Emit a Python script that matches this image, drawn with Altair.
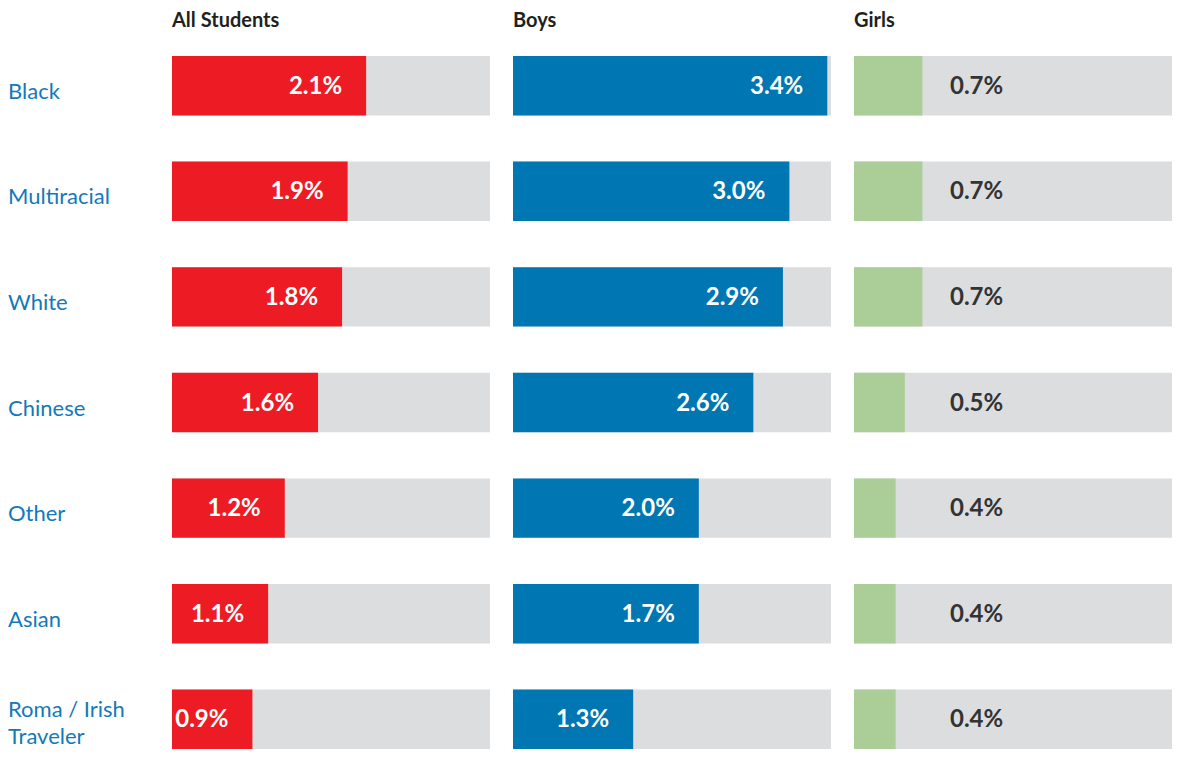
import altair as alt
import pandas as pd

categories = ["Black", "Multiracial", "White", "Chinese", "Other", "Asian", "Roma / Irish\nTraveler"]
groups = ["All Students", "Boys", "Girls"]

# bar lengths
all_vals = [2.10, 1.90, 1.84, 1.58, 1.22, 1.04, 0.87]
boys_vals = [3.40, 2.99, 2.92, 2.60, 2.01, 2.01, 1.30]
girls_vals = [0.74, 0.74, 0.74, 0.55, 0.45, 0.45, 0.45]
# printed labels
all_labels = ["2.1%", "1.9%", "1.8%", "1.6%", "1.2%", "1.1%", "0.9%"]
boys_labels = ["3.4%", "3.0%", "2.9%", "2.6%", "2.0%", "1.7%", "1.3%"]
girls_labels = ["0.7%", "0.7%", "0.7%", "0.5%", "0.4%", "0.4%", "0.4%"]
full_scale = 3.44

colors = {"All Students": "#ED1C24", "Boys": "#0076B3", "Girls": "#ABCD97"}
FONT = "Lato"

series = {
    "All Students": (all_vals, all_labels),
    "Boys": (boys_vals, boys_labels),
    "Girls": (girls_vals, girls_labels),
}

W, H = 318, 693

def panel(name, first=False):
    vals, labels = series[name]
    df = pd.DataFrame({"cat": categories, "value": vals, "label": labels,
                       "full": [full_scale] * len(categories)})
    y = alt.Y("cat:N", sort=categories, axis=None,
              scale=alt.Scale(paddingInner=0.4375, paddingOuter=0))
    xs = alt.Scale(domain=[0, full_scale], nice=False, zero=True)
    base = alt.Chart(df)
    bg = base.mark_bar(color="#DCDDDF").encode(
        x=alt.X("full:Q", scale=xs, axis=None), y=y)
    bar = base.mark_bar(color=colors[name]).encode(
        x=alt.X("value:Q", scale=xs, axis=None), y=y)
    if name == "Girls":
        txt = base.mark_text(align="left", baseline="middle", font=FONT,
                             fontSize=24, fontWeight="bold", color="#333333",
                             dy=1).encode(x=alt.value(96), y=y, text="label:N")
    else:
        txt = base.mark_text(align="right", baseline="middle", font=FONT,
                             fontSize=24, fontWeight="bold", color="white",
                             dx=-24, dy=1).encode(
            x=alt.X("value:Q", scale=xs, axis=None), y=y, text="label:N")
    layers = [bg, bar, txt]
    if first:
        single = base.transform_filter("indexof(datum.cat, '\\n') < 0").mark_text(
            align="left", baseline="middle", font=FONT, fontSize=22,
            color="#1479B8", dy=6).encode(x=alt.value(-164), y=y, text="cat:N")
        multi = base.transform_filter("indexof(datum.cat, '\\n') >= 0").mark_text(
            align="left", baseline="middle", font=FONT, fontSize=22,
            color="#1479B8", lineBreak="\n", lineHeight=27, dy=-9).encode(
            x=alt.value(-164), y=y, text="cat:N")
        layers += [single, multi]
    return alt.layer(*layers).properties(
        width=W, height=H,
        title=alt.TitleParams(name, anchor="start", frame="group", fontSize=20,
                              font=FONT, fontWeight="bold", color="#231F20",
                              offset=25),
    )

chart = alt.hconcat(
    panel("All Students", first=True), panel("Boys"), panel("Girls"),
    spacing=23,
).configure_view(stroke=None).properties(padding={"top": 3, "left": 0, "right": 0, "bottom": 0})

chart.save("out.html", embed_options={"renderer": "svg", "actions": False})
